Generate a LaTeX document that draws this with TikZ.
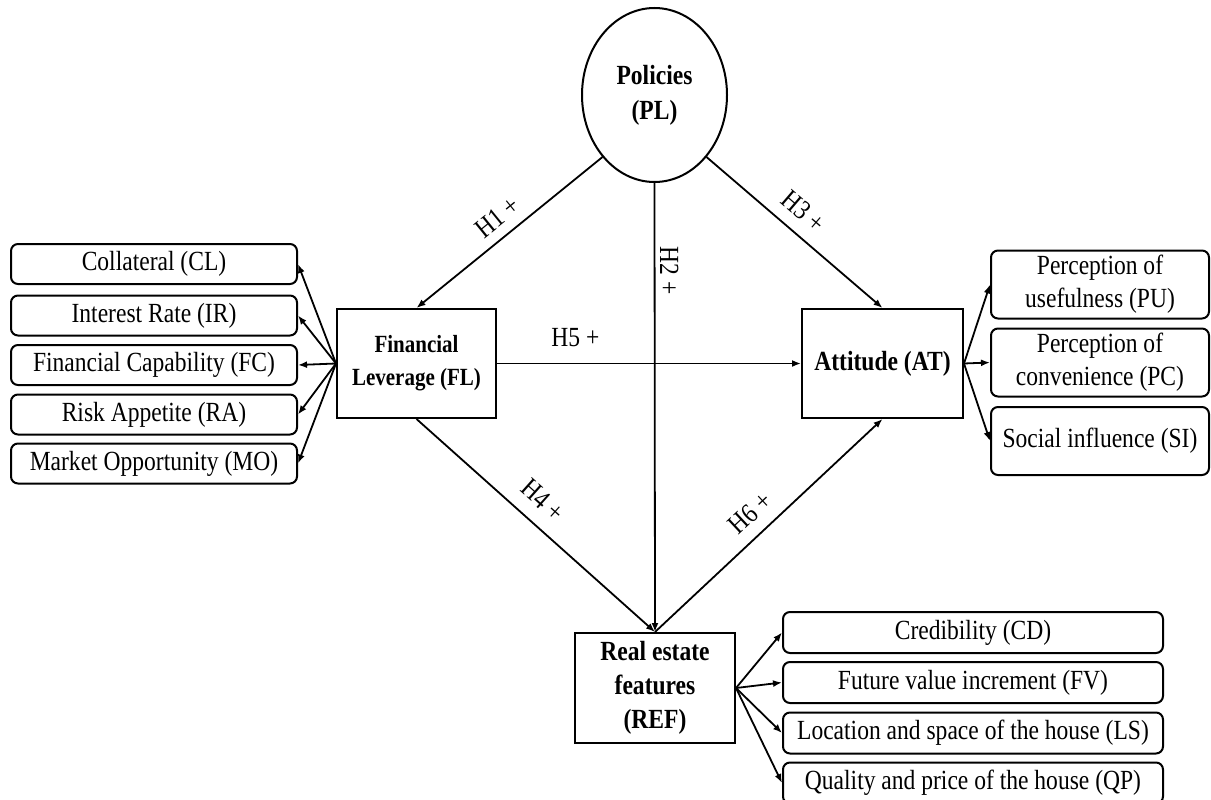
\documentclass[tikz,border=0pt]{standalone}
\usepackage{fontspec}
\setmainfont[FakeStretch=0.85]{Liberation Serif}
\usetikzlibrary{shapes.geometric,arrows.meta}
\definecolor{tipblue}{RGB}{91,155,213}
\begin{document}
\begin{tikzpicture}[x=1pt,y=-1pt,
  every node/.style={font=\fontsize{27.7}{33}\selectfont},
  base/.style={draw, line width=2pt, inner sep=0pt, align=center},
  construct/.style={base, rectangle, font=\bfseries\fontsize{27.7}{34}\selectfont},
  item/.style={base, rounded corners=7pt},
  leftitem/.style={item, minimum width=286pt, minimum height=40pt},
  rightitem/.style={item, minimum width=218pt, minimum height=68pt},
  bottomitem/.style={item, minimum width=380pt, minimum height=41pt},
  link/.style={line width=1.8pt, -{Latex[length=9pt,width=7pt]}},
  hyp/.style={inner sep=2pt, font=\fontsize{27.7}{30}\selectfont}
]
\useasboundingbox (0,0) rectangle (1211,800);

% central constructs
\node[base, ellipse, minimum width=145pt, minimum height=174pt,
      font=\bfseries\fontsize{27.7}{35}\selectfont] (PL) at (654.5,95) {Policies\\(PL)};
\node[construct, minimum width=159pt, minimum height=109pt,
      font=\bfseries\fontsize{24.7}{33}\selectfont] (FL) at (416.5,363.5) {Financial\\Leverage (FL)};
\node[construct, minimum width=161pt, minimum height=109pt] (AT) at (882.5,363.5) {Attitude (AT)};
\node[construct, minimum width=160pt, minimum height=110pt] (REF) at (655,688) {Real estate\\features\\(REF)};

% indicators of financial leverage
\node[leftitem] (CL) at (154,264)   {Collateral (CL)};
\node[leftitem] (IR) at (154,315.5) {Interest Rate (IR)};
\node[leftitem] (FC) at (154,365)   {Financial Capability (FC)};
\node[leftitem] (RA) at (154,414.5) {Risk Appetite (RA)};
\node[leftitem] (MO) at (154,463.5) {Market Opportunity (MO)};

% indicators of attitude
\node[rightitem] (PU) at (1100,284.5) {Perception of\\usefulness (PU)};
\node[rightitem] (PC) at (1100,362.5) {Perception of\\convenience (PC)};
\node[rightitem] (SI) at (1100,441)   {Social influence (SI)};

% indicators of real estate features
\node[bottomitem] (CD) at (973,632.5) {Credibility (CD)};
\node[bottomitem] (FV) at (973,682.5) {Future value increment (FV)};
\node[bottomitem] (LS) at (973,733)   {Location and space of the house (LS)};
\node[bottomitem] (QP) at (973,783)   {Quality and price of the house (QP)};

% measurement arrows
\foreach \n in {CL,IR,FC,RA,MO} \draw[link] (FL.west) -- (\n.east);
\foreach \n in {PU,PC,SI} \draw[link] (AT.east) -- (\n.west);
\foreach \n in {CD,FV,LS,QP} \draw[link] (REF.east) -- (\n.west);

% hypotheses
\draw[link] (PL.230) -- node[hyp, sloped, above, pos=0.5, outer sep=8.6pt] {H1 +} (FL.north);
\draw[link] (PL.south) -- node[hyp, rotate=-90, anchor=south, pos=0.195, outer sep=3.6pt] {H2 +} (REF.north);
\draw[link] (PL.310) -- node[hyp, sloped, above, pos=0.47, outer sep=10.5pt] {H3 +} (AT.north);
\draw[line width=1.8pt, -{Latex[length=9pt,width=7pt,fill=tipblue]}] (FL.south)
  -- node[hyp, sloped, above, pos=0.464, outer sep=12.6pt] {H4 +} (REF.north);
\draw[link] (FL.east) -- node[hyp, above, pos=0.258, outer sep=14.3pt] {H5 +} (AT.west);
\draw[link] (REF.north) -- node[hyp, sloped, above, pos=0.484, outer sep=10.5pt] {H6 +} (AT.south);
\end{tikzpicture}
\end{document}
